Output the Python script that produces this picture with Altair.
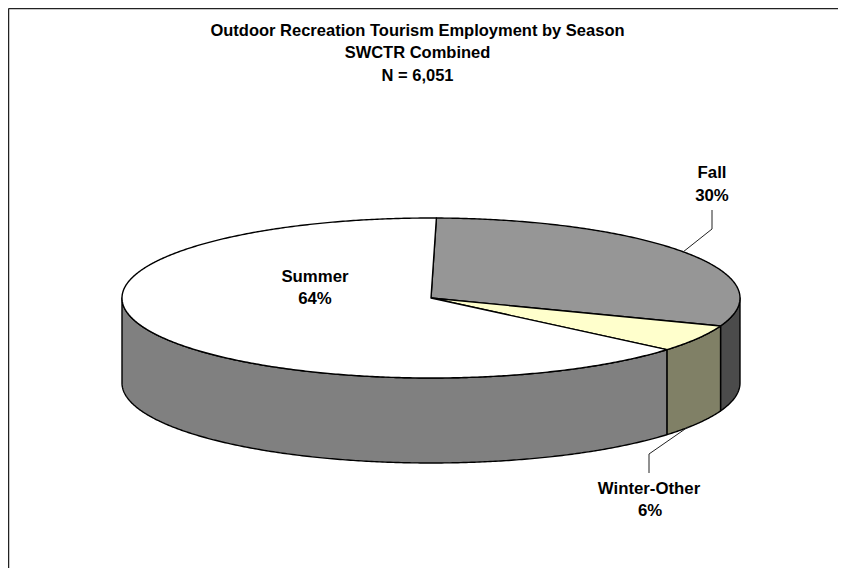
import numpy as np
import altair as alt

# Values
seasons = ["Fall", "Winter-Other", "Summer"]
shares = [30.4, 5.5, 64.1]
share_labels = ["30%", "6%", "64%"]
top_colors = ["#969696", "#FFFFCC", "#FFFFFF"]
side_colors = ["#4B4B4B", "#808066", "#808080"]
title_lines = ["Outdoor Recreation Tourism Employment by Season", "SWCTR Combined", "N = 6,051"]

# Pie geometry (in page pixels), derived from the shares
CX, CY, RX, RY, DEPTH = 431.0, 298.0, 309.0, 80.0, 85.0
START = 1.0
INK = "#000000"


def rim(a0, a1, dy=0.0):
    ts = np.radians(np.linspace(a0, a1, max(4, int(abs(a1 - a0) * 2))))
    return [[float(CX + RX * np.sin(t)), float(CY - RY * np.cos(t) + dy)] for t in ts]


def feature(ring, color):
    ring = ring + [ring[0]]
    return {"type": "Feature", "properties": {"c": color},
            "geometry": {"type": "Polygon", "coordinates": [ring]}}


bounds = START + np.concatenate([[0], np.cumsum(shares)]) * 3.6

features = []
# Side walls: only the front half of the rim (90 to 270 degrees) is visible
for i in range(len(shares)):
    a0, a1 = max(bounds[i], 90.0), min(bounds[i + 1], 270.0)
    if a1 > a0:
        features.append(feature(rim(a0, a1) + rim(a1, a0, DEPTH), side_colors[i]))
# Top faces
for i in range(len(shares)):
    features.append(feature([[CX, CY]] + rim(bounds[i], bounds[i + 1]), top_colors[i]))

pie = (
    alt.Chart(alt.Data(values=features))
    .mark_geoshape(stroke=INK, strokeWidth=1.4, strokeJoin="round")
    .encode(color=alt.Color("properties.c:N", scale=None, legend=None))
    .project(type="identity", scale=1, translate=[-8, -8])
)

PAGE = 8


def label(text, x, y, size=16.8):
    return (
        alt.Chart(alt.Data(values=[{"t": text}]))
        .mark_text(font="Liberation Sans", fontWeight="bold", fontSize=size, color="#000000",
                   align="center", baseline="middle")
        .encode(x=alt.value(x - PAGE), y=alt.value(y - PAGE), text="t:N")
    )


def segment(x1, y1, x2, y2, color="#222222", width=1.0):
    return (
        alt.Chart(alt.Data(values=[{"k": 0}]))
        .mark_rule(color=color, strokeWidth=width)
        .encode(x=alt.value(x1 - PAGE), y=alt.value(y1 - PAGE),
                x2=alt.value(x2 - PAGE), y2=alt.value(y2 - PAGE))
    )


layers = [
    pie,
    segment(712, 210, 712, 229), segment(712, 229, 683, 252),
    segment(649, 473, 649, 454), segment(649, 454, 688, 427),
    segment(8.5, 8.5, 838, 8.5, width=1.5), segment(8.5, 8.5, 8.5, 572, width=1.5),
    label(title_lines[0], 417.5, 30.5, 16.5), label(title_lines[1], 417.5, 53, 16.5), label(title_lines[2], 417.5, 75.5, 16.5),
    label(seasons[2], 315, 276.5), label(share_labels[2], 315, 299),
    label(seasons[0], 712, 172.5), label(share_labels[0], 712, 196),
    label(seasons[1], 649, 489), label(share_labels[1], 650, 511),
]

chart = (
    alt.layer(*layers)
    .properties(width=830, height=560, padding=0, background="#FFFFFF",
                autosize=alt.AutoSizeParams(type="none"))
    .configure_view(stroke=None)
)

chart.save("out.html", embed_options={"renderer": "svg", "actions": False})
